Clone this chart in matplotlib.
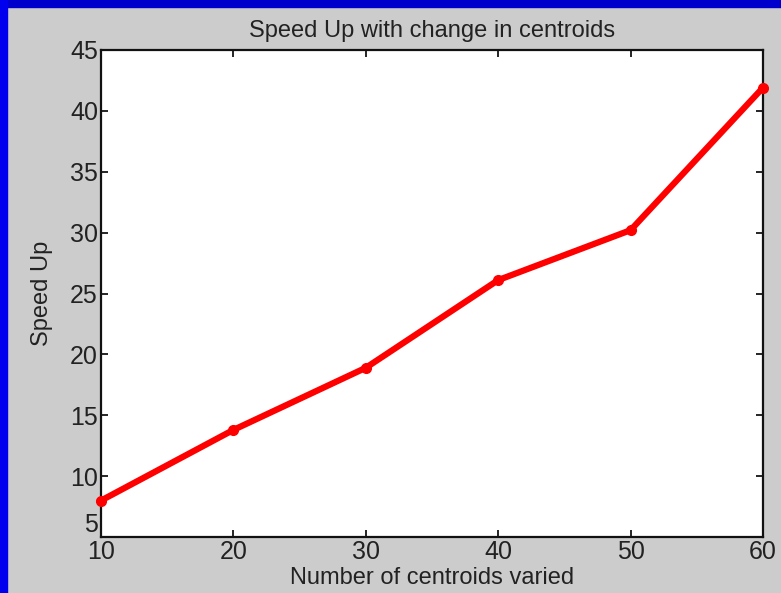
import matplotlib.pyplot as plt
from matplotlib.patches import Rectangle

centroids = [10, 20, 30, 40, 50, 60]
speed_up = [8.0, 13.8, 18.9, 26.1, 30.2, 41.9]
x_ticks = [10, 20, 30, 40, 50, 60]
y_ticks = [5, 10, 15, 20, 25, 30, 35, 40, 45]

plt.rcParams['font.family'] = ['Liberation Sans', 'DejaVu Sans']
text_col = '#222222'

fig = plt.figure(figsize=(7.81, 5.93), dpi=100, facecolor='#cccccc')
# blue frame on top and left edges
fig.patches.append(Rectangle((0, 0.988), 1, 0.012, transform=fig.transFigure,
                             color='#0000cc', zorder=0))
fig.patches.append(Rectangle((0, 0), 0.009, 1, transform=fig.transFigure,
                             color='#0000ee', zorder=0))

ax = fig.add_axes([0.129, 0.094, 0.848, 0.822])
ax.set_facecolor('white')
ax.plot(centroids, speed_up, color='red', lw=4.5, marker='o', ms=7,
        solid_joinstyle='round', clip_on=False, zorder=3)

ax.set_xlim(10, 60)
ax.set_ylim(5, 45)
ax.set_xticks(x_ticks)
ax.set_yticks(y_ticks)
ax.tick_params(direction='in', length=5, width=1.2, top=True, right=True,
               labelsize=18, labelcolor=text_col, pad=2)
for s in ax.spines.values():
    s.set_linewidth(1.6)
    s.set_color('#111111')
ax.get_yticklabels()[0].set_va('bottom')

ax.set_title('Speed Up with change in centroids', fontsize=17, color=text_col, pad=9)
ax.set_xlabel('Number of centroids varied', fontsize=17, color=text_col, labelpad=2)
ax.set_ylabel('Speed Up', fontsize=17, color=text_col, labelpad=12)

fig.savefig('out.png', dpi=100, facecolor=fig.get_facecolor())
